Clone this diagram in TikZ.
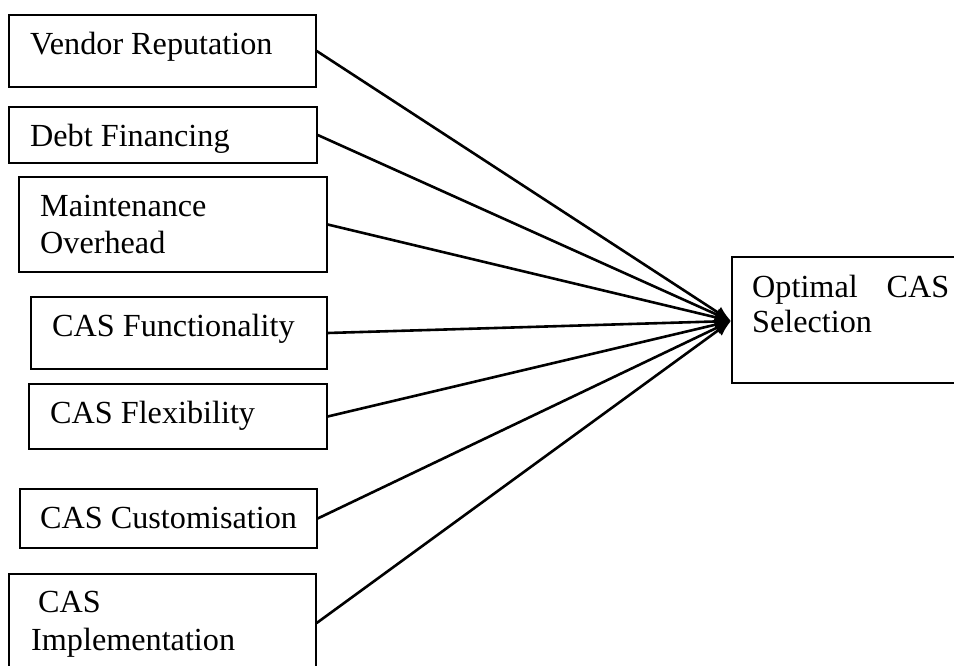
\documentclass[tikz,border=0pt]{standalone}
\usepackage{fontspec}
\setmainfont{Liberation Serif}
\usetikzlibrary{arrows.meta}
\begin{document}
\begin{tikzpicture}[x=1pt,y=-1pt,
  box/.style={draw, line width=1.4pt, inner sep=0pt, rectangle},
  txt/.style={anchor=base west, inner sep=0pt, font=\fontsize{32.2pt}{36.5pt}\selectfont},
  conn/.style={line width=2.6pt, -{Latex[length=16pt,width=13pt]}, shorten >=0pt}]
\useasboundingbox (0,0) rectangle (954,666);
\clip (0,0) rectangle (954,666);
% boxes
\node[box, minimum width=307pt, minimum height=72pt] (vr) at (162.5,51) {};
\node[box, minimum width=308pt, minimum height=56pt] (df) at (163,135) {};
\node[box, minimum width=308pt, minimum height=95pt] (mo) at (173,224.5) {};
\node[box, minimum width=296pt, minimum height=72pt] (cf) at (179,333) {};
\node[box, minimum width=298pt, minimum height=65pt] (cx) at (178,416.5) {};
\node[box, minimum width=297pt, minimum height=59pt] (cc) at (168.5,518.5) {};
\node[box, minimum width=307pt, minimum height=98pt] (ci) at (162.5,623) {};
\node[box, minimum width=260pt, minimum height=126pt] (oc) at (862,320) {};
% texts
\node[txt] (t1) at (30,55) {Vendor Reputation};
\node[txt] (t2) at (30,147) {Debt Financing};
\node[txt] (t3a) at (40,217) {Maintenance};
\node[txt] (t3b) at (40,253) {Overhead};
\node[txt] (t4) at (52,336) {CAS Functionality};
\node[txt] (t5) at (50,423) {CAS Flexibility};
\node[txt] (t6) at (40,528) {CAS Customisation};
\node[txt] (t7a) at (38,612) {CAS};
\node[txt] (t7b) at (31,650) {Implementation};
\node[txt] (t8a) at (752,297) {Optimal\hspace{29pt}CAS};
\node[txt] (t8b) at (752,332) {Selection};
% connectors
\coordinate (tip) at (731,321);
\foreach \n in {vr,df,mo,cf,cx,cc,ci}
  \draw[conn] (\n.east) -- (tip);
\end{tikzpicture}
\end{document}
